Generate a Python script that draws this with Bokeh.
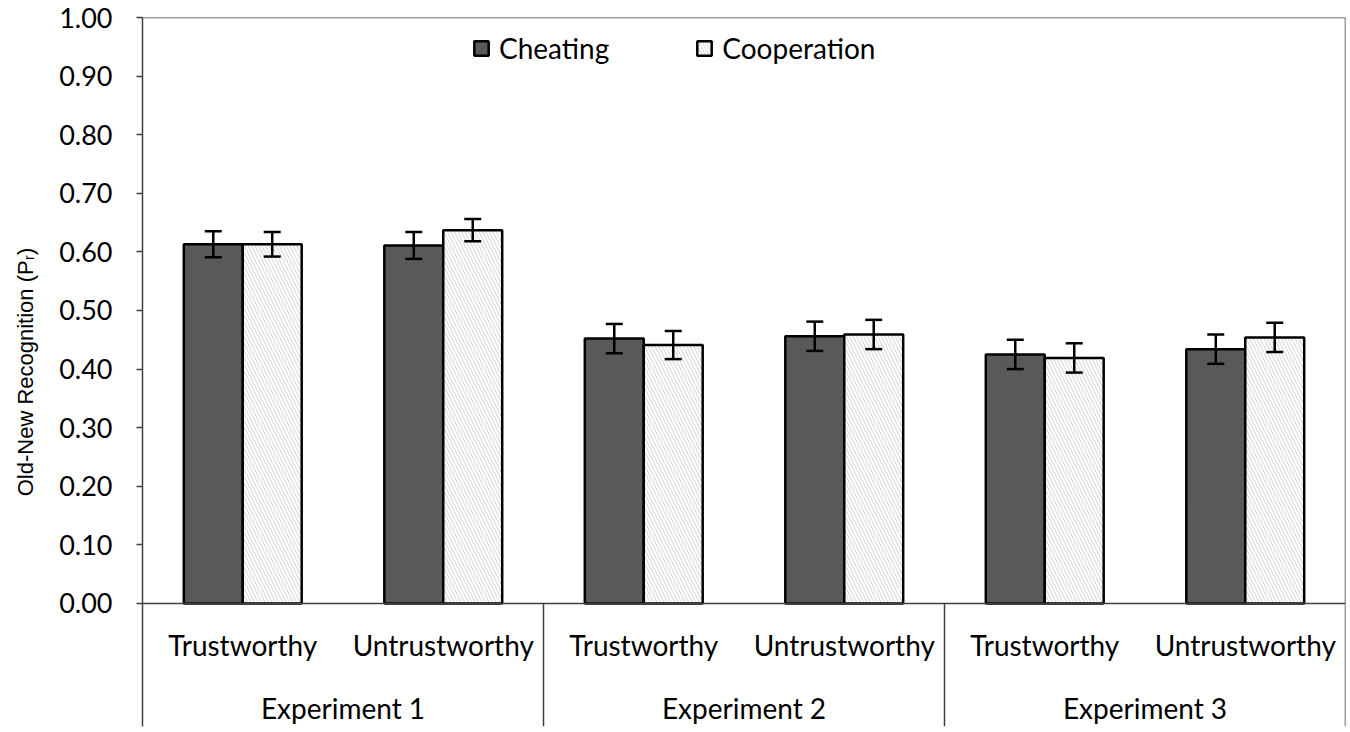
from bokeh.plotting import figure
from bokeh.models import (ColumnDataSource, FactorRange, Range1d, FixedTicker, NumeralTickFormatter,
                          Whisker, TeeHead, Span, Legend, LegendItem)
from bokeh.transform import dodge
from bokeh.core.properties import value
from bokeh.embed import file_html
from bokeh.resources import INLINE

# ---------------- data ----------------
experiments = ["Experiment 1", "Experiment 2", "Experiment 3"]
conditions = ["Trustworthy", "Untrustworthy"]
cheating = [0.613, 0.611, 0.452, 0.456, 0.425, 0.434]
cooperation = [0.613, 0.637, 0.441, 0.459, 0.419, 0.454]
cheating_err = [0.022, 0.023, 0.025, 0.025, 0.025, 0.025]
cooperation_err = [0.021, 0.019, 0.024, 0.025, 0.025, 0.025]
y_ticks = [0.0, 0.1, 0.2, 0.3, 0.4, 0.5, 0.6, 0.7, 0.8, 0.9, 1.0]

FONT = "Lato"
factors = [(e, c) for e in experiments for c in conditions]

src = ColumnDataSource(dict(
    x=factors,
    cheat=cheating,
    coop=cooperation,
    cheat_hi=[v + e for v, e in zip(cheating, cheating_err)],
    cheat_lo=[v - e for v, e in zip(cheating, cheating_err)],
    coop_hi=[v + e for v, e in zip(cooperation, cooperation_err)],
    coop_lo=[v - e for v, e in zip(cooperation, cooperation_err)],
))

Y_BOTTOM = -0.21
x_range = FactorRange(*factors, group_padding=0, factor_padding=0, range_padding=0)
p = figure(x_range=x_range, y_range=Range1d(Y_BOTTOM, 1.0), width=1346, height=729,
           output_backend="svg", toolbar_location=None,
           min_border_left=142, min_border_right=1, min_border_top=17, min_border_bottom=3)
p.background_fill_color = "white"
p.border_fill_color = "white"
p.outline_line_color = None
p.xgrid.visible = False
p.ygrid.visible = False
p.xaxis.visible = False

AX = "#404040"
yax = p.yaxis[0]
yax.ticker = FixedTicker(ticks=y_ticks, minor_ticks=[])
yax.formatter = NumeralTickFormatter(format="0.00")
yax.axis_line_color = AX
yax.axis_line_width = 1.5
yax.major_tick_line_color = AX
yax.major_tick_line_width = 1.5
yax.major_tick_in = 0
yax.major_tick_out = 6
yax.minor_tick_line_color = None
yax.major_label_text_font = FONT
yax.major_label_text_font_size = "27px"
yax.major_label_text_color = "black"
yax.major_label_standoff = 24
yax.axis_label = "Old-New Recognition (Pᵣ)"
yax.axis_label_text_font = "Liberation Sans"
yax.axis_label_text_font_style = "normal"
yax.axis_label_text_font_size = "22px"
yax.axis_label_text_color = "black"
yax.axis_label_standoff = 18

# frame lines
p.add_layout(Span(location=1.0, dimension="width", line_color=AX, line_width=1.5))
p.add_layout(Span(location=0.0, dimension="width", line_color=AX, line_width=1.5))

# separators between experiments and right edge
sep_x = [(e, conditions[-1], 0.5) for e in experiments]
sep_top = [0.0] * (len(experiments) - 1) + [1.0]
sep_bot = [Y_BOTTOM] * len(experiments)
p.segment(x0=sep_x, x1=sep_x, y0=sep_top, y1=sep_bot, line_color=AX, line_width=1.5)

# bars
W = 0.294
r1 = p.vbar(x=dodge("x", -W / 2, range=x_range), top="cheat", width=W, source=src,
            fill_color="#595959", line_color="black", line_width=2.5)
r2 = p.vbar(x=dodge("x", W / 2, range=x_range), top="coop", width=W, source=src,
            fill_color="white", line_color="black", line_width=2.5,
            hatch_pattern="\\", hatch_color="#d2d2d2", hatch_scale=7, hatch_weight=1)

for off, hi, lo in [(-W / 2, "cheat_hi", "cheat_lo"), (W / 2, "coop_hi", "coop_lo")]:
    w = Whisker(source=src, base=dodge("x", off, range=x_range), upper=hi, lower=lo,
                line_color="black", line_width=2.5, level="overlay",
                upper_head=TeeHead(size=17, line_color="black", line_width=2.5),
                lower_head=TeeHead(size=17, line_color="black", line_width=2.5))
    p.add_layout(w)

# category labels
p.text(x=factors, y=[-0.071] * len(factors), text=[c for e, c in factors],
       text_font=value(FONT), text_font_size="28px", text_color="black",
       text_align="center", text_baseline="middle")
p.text(x=experiments, y=[-0.178] * len(experiments), text=experiments,
       text_font=value(FONT), text_font_size="28px", text_color="black",
       text_align="center", text_baseline="middle")

legend = Legend(items=[LegendItem(label="Cheating", renderers=[r1]),
                       LegendItem(label="Cooperation", renderers=[r2])],
                orientation="horizontal", location=(330, 661),
                glyph_width=18, glyph_height=18, label_standoff=9, spacing=86,
                padding=0, margin=0, border_line_color=None, background_fill_alpha=0,
                label_text_font=FONT, label_text_font_size="28px", label_text_color="black")
p.add_layout(legend)

open("out.html", "w").write(file_html(p, INLINE))
